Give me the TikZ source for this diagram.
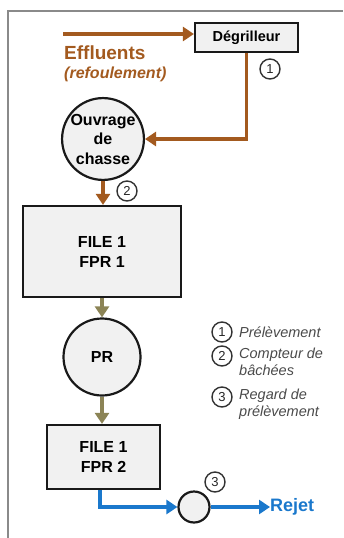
\documentclass[tikz,border=0pt]{standalone}
\usepackage{fontspec}
\setmainfont{Liberation Sans}
\usetikzlibrary{arrows.meta,calc}
\definecolor{brownc}{HTML}{A35A1F}
\definecolor{olivec}{HTML}{8C8456}
\definecolor{bluec}{HTML}{1A78CC}
\definecolor{boxfill}{HTML}{F1F1F1}
\definecolor{legtext}{HTML}{4A4A4A}
\definecolor{framec}{HTML}{8A8A8A}
\tikzset{
  blk/.style={draw=black!90, line width=2.2pt, fill=boxfill, font=\bfseries\fontsize{16}{20}\selectfont, align=center, inner sep=0pt},
  rnd/.style={circle, draw=black!90, line width=2.2pt, fill=boxfill, font=\bfseries\fontsize{16}{19.5}\selectfont, align=center, inner sep=0pt},
  num/.style={circle, draw=black!80, line width=1.4pt, fill=white, minimum size=20pt, inner sep=0pt, font=\fontsize{13}{13}\selectfont, text=black!85},
  conn/.style={line width=3.6pt, -{Triangle[length=11pt,width=14pt]}},
  legt/.style={anchor=west, inner sep=0pt, text=legtext, font=\itshape\fontsize{14.5}{17}\selectfont, align=left},
}
\begin{document}
\begin{tikzpicture}[x=1pt,y=-1pt]
\useasboundingbox (0,0) rectangle (343,538);
% frame
\draw[framec, line width=1.4pt] (8,538) -- (8,11) -- (343,11);
% nodes
\node[blk, minimum width=103pt, minimum height=29pt, font=\bfseries\fontsize{14.5}{16}\selectfont] (degr) at (246.5,37.5) {Dégrilleur};
\node[rnd, minimum size=76pt] (ouv) at (103,139) {Ouvrage\\de\\chasse};
\node[blk, minimum width=158pt, minimum height=91pt] (fpr1) at (102,251.5) {FILE 1\\FPR 1};
\node[rnd, minimum size=77pt] (pr) at (102,357) {PR};
\node[blk, minimum width=113pt, minimum height=64pt] (fpr2) at (103.5,457) {FILE 1\\FPR 2};
\node[circle, draw=black!90, line width=2.2pt, fill=boxfill, minimum size=31pt, inner sep=0pt] (reg) at (194,507) {};
% texts
\node[anchor=west, inner sep=0pt, text=brownc, font=\bfseries\fontsize{19}{19}\selectfont] (eff) at (64,53) {Effluents};
\node[anchor=west, inner sep=0pt, text=brownc, font=\bfseries\itshape\fontsize{16}{16}\selectfont] (refo) at (64,74) {(refoulement)};
\node[anchor=west, inner sep=0pt, text=bluec, font=\bfseries\fontsize{18}{18}\selectfont] (rejet) at (270,507) {Rejet};
% circled numbers
\node[num] (n1) at (270,69) {1};
\node[num] (n2) at (127,191) {2};
\node[num] (n3) at (215,482) {3};
% legend
\node[num] (l1) at (222,332) {1};
\node[num] (l2) at (222,356) {2};
\node[num] (l3) at (222,397) {3};
\node[legt] (t1) at (239,332) {Prélèvement};
\node[legt, anchor=north west] (t2) at (239,348) {Compteur de\\bâchées};
\node[legt, anchor=north west] (t3) at (239,389) {Regard de\\prélèvement};
% connectors
\coordinate (estart) at (63,34);
\draw[conn, brownc] (estart) -- (estart -| degr.west);
\draw[conn, brownc] (degr.south) |- (ouv.east);
\draw[conn, brownc] (ouv.south) -- (ouv.south |- fpr1.north);
\draw[conn, olivec] (fpr1.south -| pr.north) -- (pr.north);
\draw[conn, olivec] (pr.south) -- (pr.south |- fpr2.north);
\coordinate (bstart) at ($(fpr2.south)+(-3.5,0)$);
\draw[conn, bluec] (bstart) |- (reg.west);
\draw[conn, bluec] (reg.east) -- (rejet.west);
\end{tikzpicture}
\end{document}
